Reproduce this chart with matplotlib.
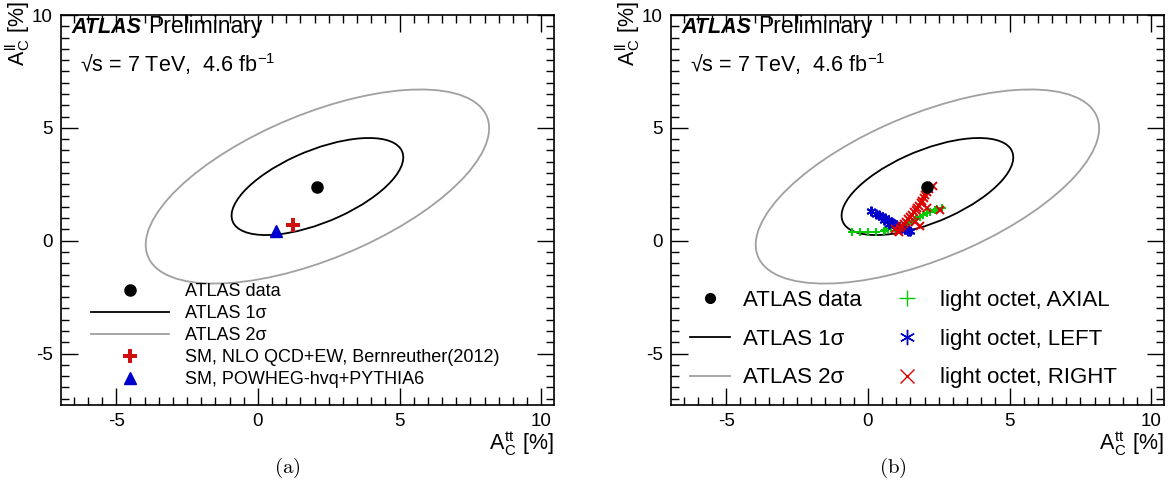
import matplotlib
matplotlib.use("Agg")
import matplotlib.pyplot as plt
import numpy as np
from matplotlib.patches import Ellipse
from matplotlib.lines import Line2D
from matplotlib.ticker import MultipleLocator

plt.rcParams['font.family'] = ['Liberation Sans', 'DejaVu Sans']
plt.rcParams['mathtext.fontset'] = 'cm'
plt.rcParams['axes.unicode_minus'] = False

# ATLAS measurement (A_C^tt, A_C^ll) in %
data_x, data_y = 2.1, 2.4
sigma_x, sigma_y, rho = 3.03, 2.15, 0.6

# SM predictions
nlo_x, nlo_y = 1.23, 0.70
powheg_x, powheg_y = 0.65, 0.42

# light octet models
axial_x = [-0.55, -0.28, 0.01, 0.28, 0.55, 0.62, 0.70, 0.80, 0.95, 1.10, 1.25,
           1.40, 1.55, 1.70, 1.85, 1.95, 2.10, 2.20, 2.35, 2.45, 2.60]
axial_y = [0.37, 0.37, 0.37, 0.39, 0.42, 0.47, 0.52, 0.55, 0.55, 0.58, 0.65,
           0.75, 0.85, 0.94, 1.05, 1.12, 1.22, 1.28, 1.35, 1.40, 1.45]
left_x = [0.10, 0.30, 0.40, 0.50, 0.55, 0.60, 0.70, 0.75, 0.80, 0.90, 1.00,
          1.10, 1.20, 1.30, 1.40, 1.50]
left_y = [1.33, 1.20, 1.12, 1.05, 0.90, 1.00, 0.92, 0.75, 0.85, 0.78, 0.70,
          0.62, 0.55, 0.50, 0.45, 0.42]
right_x = [0.95, 1.05, 1.10, 1.12, 1.20, 1.28, 1.35, 1.42, 1.50, 1.56, 1.62,
           1.65, 1.68, 1.74, 1.80, 1.83, 1.86, 1.92, 1.98, 2.03, 2.07, 2.08,
           2.15, 2.30, 2.54]
right_y = [0.50, 0.45, 0.40, 0.55, 0.65, 0.75, 0.85, 0.95, 1.05, 1.15, 1.25,
           0.83, 1.35, 1.45, 1.55, 0.64, 1.65, 1.78, 1.90, 2.02, 1.43, 2.15,
           2.28, 2.42, 1.38]


def add_ellipses(ax):
    cov = np.array([[sigma_x**2, rho * sigma_x * sigma_y],
                    [rho * sigma_x * sigma_y, sigma_y**2]])
    vals, vecs = np.linalg.eigh(cov)
    angle = np.degrees(np.arctan2(vecs[1, 1], vecs[0, 1]))
    for n, col in [(1, 'black'), (2, '#a0a0a0')]:
        e = Ellipse((data_x, data_y), 2 * n * np.sqrt(vals[1]), 2 * n * np.sqrt(vals[0]),
                    angle=angle, fill=False, ec=col, lw=1.3, zorder=2)
        ax.add_patch(e)


def style_axes(ax):
    ax.set_xlim(-6.95, 10.45)
    ax.set_ylim(-7.28, 10)
    ax.xaxis.set_major_locator(MultipleLocator(5))
    ax.xaxis.set_minor_locator(MultipleLocator(0.5))
    ax.yaxis.set_major_locator(MultipleLocator(5))
    ax.yaxis.set_minor_locator(MultipleLocator(0.5))
    ax.tick_params(which='both', direction='in', top=True, right=True,
                   labelsize=13.5, width=1)
    ax.tick_params(which='major', length=12, pad=6)
    ax.tick_params(which='minor', length=6)
    for s in ax.spines.values():
        s.set_linewidth(1.2)
    ax.text(0.022, 0.955, 'ATLAS', transform=ax.transAxes, fontsize=15.5,
            fontweight='bold', fontstyle='italic', va='baseline')
    ax.text(0.176, 0.955, 'Preliminary', transform=ax.transAxes, fontsize=16.5,
            va='baseline')
    ax.text(0.038, 0.855, '\u221as = 7 TeV,  4.6 fb$^{\\mathregular{-1}}$',
            transform=ax.transAxes, fontsize=15.5, va='baseline')


fig = plt.figure(figsize=(11.73, 4.87), dpi=100)
ax1 = fig.add_axes([61 / 1173, 1 - 405 / 487, 493 / 1173, 390 / 487])
ax2 = fig.add_axes([671 / 1173, 1 - 405 / 487, 493 / 1173, 390 / 487])

# panel (a)
style_axes(ax1)
add_ellipses(ax1)
ax1.plot(data_x, data_y, 'o', color='black', ms=8, zorder=5)
ax1.plot(nlo_x, nlo_y, 'P', color='#d01010', ms=10, mew=0, zorder=4)
ax1.plot(powheg_x, powheg_y, '^', color='#0000cc', ms=9, zorder=4)

h1 = [Line2D([], [], ls='none', marker='o', color='black', ms=8),
      Line2D([], [], color='black', lw=1.3),
      Line2D([], [], color='#a0a0a0', lw=1.3),
      Line2D([], [], ls='none', marker='P', color='#d01010', ms=10, mew=0),
      Line2D([], [], ls='none', marker='^', color='#0000cc', ms=9)]
l1 = ['ATLAS data', 'ATLAS 1\u03c3', 'ATLAS 2\u03c3',
      'SM, NLO QCD+EW, Bernreuther(2012)', 'SM, POWHEG-hvq+PYTHIA6']
ax1.legend(h1, l1, loc='lower left', bbox_to_anchor=(0.046, 0.024),
           frameon=False, fontsize=13, handlelength=4.3, handletextpad=0.9,
           labelspacing=0.28, borderaxespad=0)

# panel (b)
style_axes(ax2)
add_ellipses(ax2)
ax2.plot(axial_x, axial_y, ls='none', marker='+', color='#00cc00', ms=6,
         mew=1.4, zorder=3)
ax2.plot(left_x, left_y, ls='none', marker=(6, 2, 0), color='#0000cc', ms=7,
         mew=1.4, zorder=3)
ax2.plot(right_x, right_y, ls='none', marker='x', color='#dd0000', ms=6,
         mew=1.4, zorder=4)
ax2.plot(data_x, data_y, 'o', color='black', ms=8, zorder=5)

h2 = [Line2D([], [], ls='none', marker='o', color='black', ms=7),
      Line2D([], [], color='black', lw=1.3),
      Line2D([], [], color='#a0a0a0', lw=1.3),
      Line2D([], [], ls='none', marker='+', color='#00cc00', ms=11, mew=1),
      Line2D([], [], ls='none', marker=(6, 2, 0), color='#0000cc', ms=11, mew=1),
      Line2D([], [], ls='none', marker='x', color='#dd0000', ms=10, mew=1)]
l2 = ['ATLAS data', 'ATLAS 1\u03c3', 'ATLAS 2\u03c3',
      'light octet, AXIAL', 'light octet, LEFT', 'light octet, RIGHT']
ax2.legend(h2, l2, loc='lower left', bbox_to_anchor=(0.02, 0.02), ncol=2,
           frameon=False, fontsize=16, handlelength=1.8, handletextpad=0.6,
           labelspacing=0.8, columnspacing=1.13, borderaxespad=0)

for ax, x0 in [(ax1, 61), (ax2, 671)]:
    fig.text(554 / 1173 + (x0 - 61) / 1173, 1 - 451 / 487,
             'A$_{\\mathregular{C}}^{\\mathregular{tt}}$ [%]', fontsize=15.5,
             ha='right', va='baseline')
    fig.text((x0 - 43) / 1173, 1 - 1 / 487,
             'A$_{\\mathregular{C}}^{\\mathregular{ll}}$ [%]', fontsize=15.5,
             rotation=90, ha='center', va='top')

fig.text(287 / 1173, 1 - 473 / 487, '$\\mathrm{(a)}$', fontsize=15, ha='center',
         va='baseline')
fig.text(893 / 1173, 1 - 473 / 487, '$\\mathrm{(b)}$', fontsize=15, ha='center',
         va='baseline')

fig.savefig('out.png', dpi=100)
